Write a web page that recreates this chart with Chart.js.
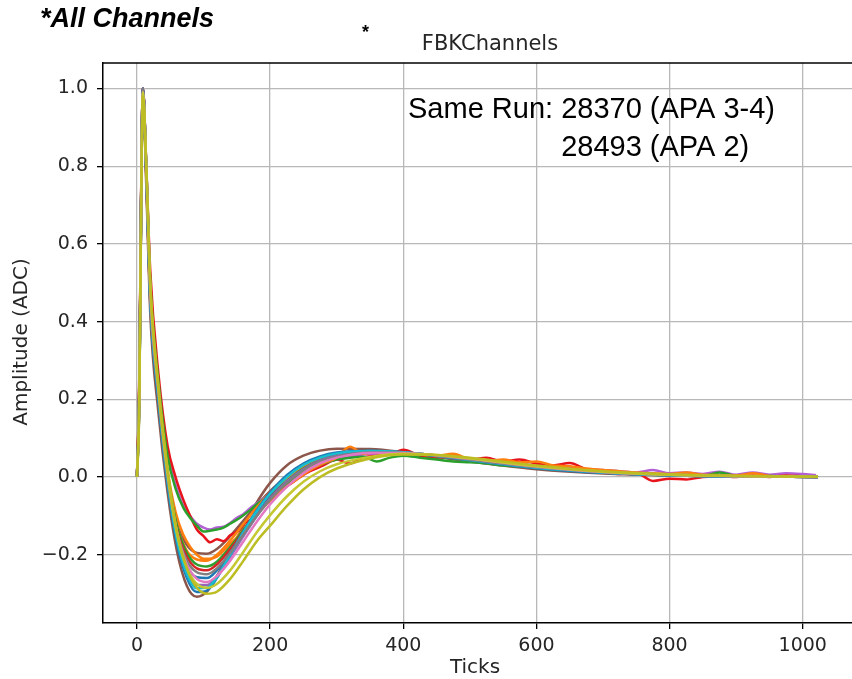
<!DOCTYPE html>
<html>
<head>
	<title>FBKChannels</title>
	<script src="https://cdn.jsdelivr.net/npm/chart.js"></script>
	<style>
		body { margin: 0; padding: 0; background: #fff; }
		#wrap { position: relative; width: 852px; height: 679px; }
	</style>
</head>
<body>
<div id="wrap"><canvas id="myChart" width="852" height="679"></canvas></div>
<script>
// sample positions (ticks) for the smooth waveforms
var ticks = [0, 3, 9, 14, 20, 32, 46, 60, 75, 90, 105, 120, 140, 160, 180, 200, 225, 250, 275, 300, 350, 400, 450, 500, 600, 700, 800, 900, 1023];

var brownDeep = [0, 0.18, 1.0, 0.75, 0.42, 0.17, -0.04, -0.19, -0.28, -0.308, -0.295, -0.255, -0.19, -0.125, -0.065, -0.015, 0.03, 0.055, 0.068, 0.073, 0.072, 0.064, 0.052, 0.04, 0.02, 0.009, 0.004, 0.002, 0.0];
var blueA = [0, 0.15, 1.0, 0.78, 0.45, 0.2, -0.02, -0.17, -0.26, -0.296, -0.292, -0.26, -0.2, -0.14, -0.085, -0.04, 0.005, 0.035, 0.053, 0.063, 0.068, 0.064, 0.054, 0.043, 0.023, 0.011, 0.005, 0.002, 0.0];
var cyanA = [0, 0.16, 0.99, 0.79, 0.46, 0.21, -0.01, -0.16, -0.25, -0.286, -0.285, -0.258, -0.2, -0.142, -0.088, -0.043, 0.0, 0.031, 0.05, 0.061, 0.067, 0.064, 0.055, 0.044, 0.024, 0.012, 0.005, 0.002, 0.0];
var oliveA = [0, 0.14, 0.98, 0.8, 0.5, 0.24, 0.02, -0.14, -0.235, -0.285, -0.3, -0.295, -0.262, -0.215, -0.165, -0.125, -0.075, -0.032, 0.0, 0.022, 0.048, 0.058, 0.057, 0.05, 0.03, 0.015, 0.007, 0.003, 0.001];
var oliveB = [0, 0.15, 0.99, 0.8, 0.49, 0.23, 0.01, -0.145, -0.235, -0.275, -0.285, -0.275, -0.24, -0.192, -0.142, -0.098, -0.05, -0.012, 0.015, 0.033, 0.052, 0.06, 0.057, 0.048, 0.028, 0.014, 0.006, 0.003, 0.001];
var pinkA = [0, 0.15, 0.99, 0.8, 0.48, 0.23, 0.01, -0.14, -0.225, -0.262, -0.27, -0.255, -0.215, -0.165, -0.115, -0.07, -0.025, 0.01, 0.035, 0.05, 0.062, 0.062, 0.056, 0.047, 0.027, 0.013, 0.006, 0.002, 0.0];
var grayA = [0, 0.16, 1.0, 0.79, 0.47, 0.22, 0.0, -0.14, -0.215, -0.245, -0.25, -0.235, -0.195, -0.148, -0.1, -0.058, -0.015, 0.018, 0.04, 0.053, 0.063, 0.062, 0.055, 0.045, 0.026, 0.013, 0.006, 0.002, 0.0];
var purpleA = [0, 0.17, 1.0, 0.78, 0.46, 0.21, -0.01, -0.16, -0.245, -0.278, -0.278, -0.255, -0.205, -0.152, -0.1, -0.055, -0.012, 0.02, 0.042, 0.055, 0.065, 0.063, 0.055, 0.045, 0.025, 0.012, 0.005, 0.002, 0.0];
var blueB = [0, 0.16, 1.0, 0.79, 0.46, 0.21, -0.01, -0.15, -0.228, -0.258, -0.26, -0.24, -0.195, -0.145, -0.097, -0.054, -0.012, 0.02, 0.042, 0.055, 0.065, 0.063, 0.055, 0.045, 0.025, 0.012, 0.005, 0.002, 0.0];
var redA = [0, 0.17, 1.0, 0.78, 0.46, 0.22, 0.0, -0.135, -0.205, -0.235, -0.24, -0.225, -0.185, -0.14, -0.095, -0.053, -0.012, 0.02, 0.042, 0.055, 0.065, 0.063, 0.055, 0.045, 0.025, 0.012, 0.005, 0.002, 0.0];
var greenA = [0, 0.16, 0.99, 0.79, 0.47, 0.23, 0.01, -0.125, -0.195, -0.225, -0.23, -0.218, -0.18, -0.136, -0.092, -0.05, -0.01, 0.022, 0.043, 0.055, 0.064, 0.062, 0.054, 0.044, 0.025, 0.012, 0.005, 0.002, 0.0];
var orangeA = [0, 0.18, 1.0, 0.77, 0.45, 0.22, 0.0, -0.125, -0.19, -0.212, -0.215, -0.2, -0.163, -0.12, -0.078, -0.04, -0.002, 0.028, 0.048, 0.058, 0.065, 0.062, 0.054, 0.044, 0.025, 0.012, 0.005, 0.002, 0.0];
var brownB = [0, 0.18, 1.0, 0.77, 0.45, 0.22, 0.0, -0.12, -0.175, -0.195, -0.197, -0.185, -0.152, -0.112, -0.072, -0.036, 0.0, 0.03, 0.05, 0.06, 0.067, 0.063, 0.054, 0.044, 0.025, 0.012, 0.005, 0.002, 0.0];

// sample positions for the noisy channels
var noisyTicks = [0, 3, 9, 14, 20, 32, 46, 58, 70, 80, 90, 100, 110, 120, 130, 140, 150, 160, 170, 180, 190, 200, 215, 230, 245, 260, 280, 300, 320, 340, 360, 380, 400, 425, 450, 475, 500, 525, 550, 575, 600, 625, 650, 675, 700, 725, 750, 775, 800, 825, 850, 875, 900, 925, 950, 975, 1000, 1020];

var orangeNoisy = [0, 0.17, 0.98, 0.79, 0.48, 0.23, 0.02, -0.09, -0.15, -0.18, -0.2, -0.21, -0.21, -0.205, -0.19, -0.172, -0.155, -0.135, -0.115, -0.095, -0.078, -0.06, -0.038, -0.018, 0.0, 0.018, 0.035, 0.05, 0.078, 0.06, 0.065, 0.062, 0.06, 0.058, 0.055, 0.06, 0.045, 0.042, 0.045, 0.038, 0.04, 0.03, 0.028, 0.022, 0.018, 0.015, 0.012, 0.01, 0.008, 0.012, 0.006, 0.005, 0.004, 0.01, 0.003, 0.002, 0.002, 0.0];
var greenNoisy = [0, 0.18, 0.99, 0.8, 0.5, 0.25, 0.055, -0.03, -0.08, -0.105, -0.125, -0.14, -0.138, -0.135, -0.13, -0.12, -0.11, -0.098, -0.085, -0.07, -0.058, -0.045, -0.028, -0.012, 0.005, 0.02, 0.035, 0.045, 0.05, 0.052, 0.04, 0.05, 0.055, 0.05, 0.045, 0.04, 0.038, 0.035, 0.03, 0.028, 0.025, 0.02, 0.018, 0.015, 0.012, 0.01, 0.008, 0.006, 0.005, 0.004, 0.003, 0.012, 0.003, 0.002, 0.003, 0.002, 0.001, 0.0];
var redNoisy = [0, 0.2, 1.0, 0.8, 0.53, 0.27, 0.08, 0.0, -0.06, -0.1, -0.135, -0.152, -0.168, -0.16, -0.165, -0.15, -0.14, -0.122, -0.11, -0.09, -0.075, -0.06, -0.035, -0.018, 0.0, 0.015, 0.03, 0.045, 0.035, 0.05, 0.055, 0.058, 0.07, 0.055, 0.05, 0.055, 0.045, 0.05, 0.04, 0.045, 0.035, 0.03, 0.036, 0.02, 0.015, 0.008, 0.01, -0.01, -0.004, -0.006, 0.0, 0.003, 0.0, 0.004, 0.0, 0.004, 0.002, 0.0];
var violetNoisy = [0, 0.19, 1.0, 0.8, 0.5, 0.25, 0.06, -0.02, -0.075, -0.1, -0.12, -0.13, -0.135, -0.13, -0.128, -0.118, -0.105, -0.095, -0.08, -0.068, -0.055, -0.045, -0.025, -0.01, 0.005, 0.02, 0.035, 0.045, 0.052, 0.058, 0.06, 0.062, 0.06, 0.058, 0.055, 0.05, 0.045, 0.04, 0.038, 0.035, 0.03, 0.028, 0.025, 0.02, 0.018, 0.015, 0.012, 0.018, 0.01, 0.012, 0.008, 0.014, 0.006, 0.012, 0.006, 0.01, 0.008, 0.005];

var xTickValues = [0, 200, 400, 600, 800, 1000];
var yTickValues = [-0.2, 0.0, 0.2, 0.4, 0.6, 0.8, 1.0];

function pts(xs, ys) {
	return ys.map(function (v, i) { return { x: xs[i], y: v }; });
}
function line(xs, ys, color) {
	return {
		data: pts(xs, ys),
		borderColor: color,
		backgroundColor: color,
		borderWidth: 2.5,
		pointRadius: 0,
		fill: false,
		cubicInterpolationMode: 'monotone'
	};
}

var datasets = [
	line(ticks, oliveA, '#bcbd22'),
	line(ticks, oliveB, '#c5c832'),
	line(ticks, pinkA, '#e377c2'),
	line(ticks, grayA, '#7f7f7f'),
	line(ticks, cyanA, '#17becf'),
	line(ticks, blueA, '#1f77b4'),
	line(ticks, purpleA, '#9467bd'),
	line(ticks, blueB, '#1f77b4'),
	line(ticks, redA, '#d62728'),
	line(ticks, greenA, '#2ca02c'),
	line(ticks, orangeA, '#ff7f0e'),
	line(noisyTicks, orangeNoisy, '#ff7f0e'),
	line(noisyTicks, greenNoisy, '#2ca02c'),
	line(noisyTicks, redNoisy, '#e8141c'),
	line(noisyTicks, violetNoisy, '#b35fd6'),
	line(ticks, brownB, '#8c564b'),
	line(ticks, brownDeep, '#8c564b')
];

var textPlugin = {
	id: 'texts',
	afterDraw: function (chart) {
		var c = chart.ctx, a = chart.chartArea;
		c.save();
		// top spine
		c.strokeStyle = '#000';
		c.lineWidth = 1.5;
		c.beginPath();
		c.moveTo(a.left, a.top);
		c.lineTo(a.right, a.top);
		c.stroke();

		c.fillStyle = '#000';
		c.textBaseline = 'middle';
		c.textAlign = 'left';
		c.font = 'italic bold 27px "Liberation Sans", Arial';
		c.fillText('*All Channels', 40, 20);
		c.font = 'bold 18px "Liberation Sans", Arial';
		c.fillText('*', 362, 33);

		c.fillStyle = '#262626';
		c.textAlign = 'center';
		c.font = '21px "DejaVu Sans"';
		c.fillText('FBKChannels', 490, 45);

		c.font = '20px "DejaVu Sans"';
		c.fillText('Ticks', 475, 668);
		c.translate(22, 342);
		c.rotate(-Math.PI / 2);
		c.fillText('Amplitude (ADC)', 0, 0);
		c.restore();

		c.save();
		c.fillStyle = '#000';
		c.textBaseline = 'middle';
		c.textAlign = 'left';
		c.font = '29px "Liberation Sans", Arial';
		var lead = 'Same Run: ';
		c.fillText(lead + '28370 (APA 3-4)', 408, 110);
		c.fillText('28493 (APA 2)', 408 + c.measureText(lead).width, 148);
		c.restore();
	}
};

new Chart(document.getElementById('myChart'), {
	type: 'line',
	data: { datasets: datasets },
	options: {
		responsive: false,
		animation: false,
		layout: { padding: { top: 63, right: 0, left: 0, bottom: 0 } },
		plugins: { legend: { display: false }, tooltip: { enabled: false } },
		scales: {
			x: {
				type: 'linear',
				min: -51,
				max: 1074,
				afterBuildTicks: function (s) { s.ticks = xTickValues.map(function (v) { return { value: v }; }); },
				afterFit: function (s) { s.height = 56; },
				grid: { color: '#b8b8b8', lineWidth: 1.3, tickColor: '#000', tickLength: 6 },
				border: { color: '#000', width: 1.5 },
				ticks: {
					color: '#262626',
					font: { family: 'DejaVu Sans', size: 19 },
					padding: 6,
					maxRotation: 0,
					callback: function (v) { return String(v); }
				}
			},
			y: {
				type: 'linear',
				min: -0.3755,
				max: 1.0655,
				afterBuildTicks: function (s) { s.ticks = yTickValues.map(function (v) { return { value: v }; }); },
				afterFit: function (s) { s.width = 103; },
				grid: { color: '#b8b8b8', lineWidth: 1.3, tickColor: '#000', tickLength: 6 },
				border: { color: '#000', width: 1.5 },
				ticks: {
					color: '#262626',
					font: { family: 'DejaVu Sans', size: 19 },
					padding: 9,
					callback: function (v) { return v.toFixed(1).replace('-', '\u2212'); }
				}
			}
		}
	},
	plugins: [textPlugin]
});
</script>
</body>
</html>
